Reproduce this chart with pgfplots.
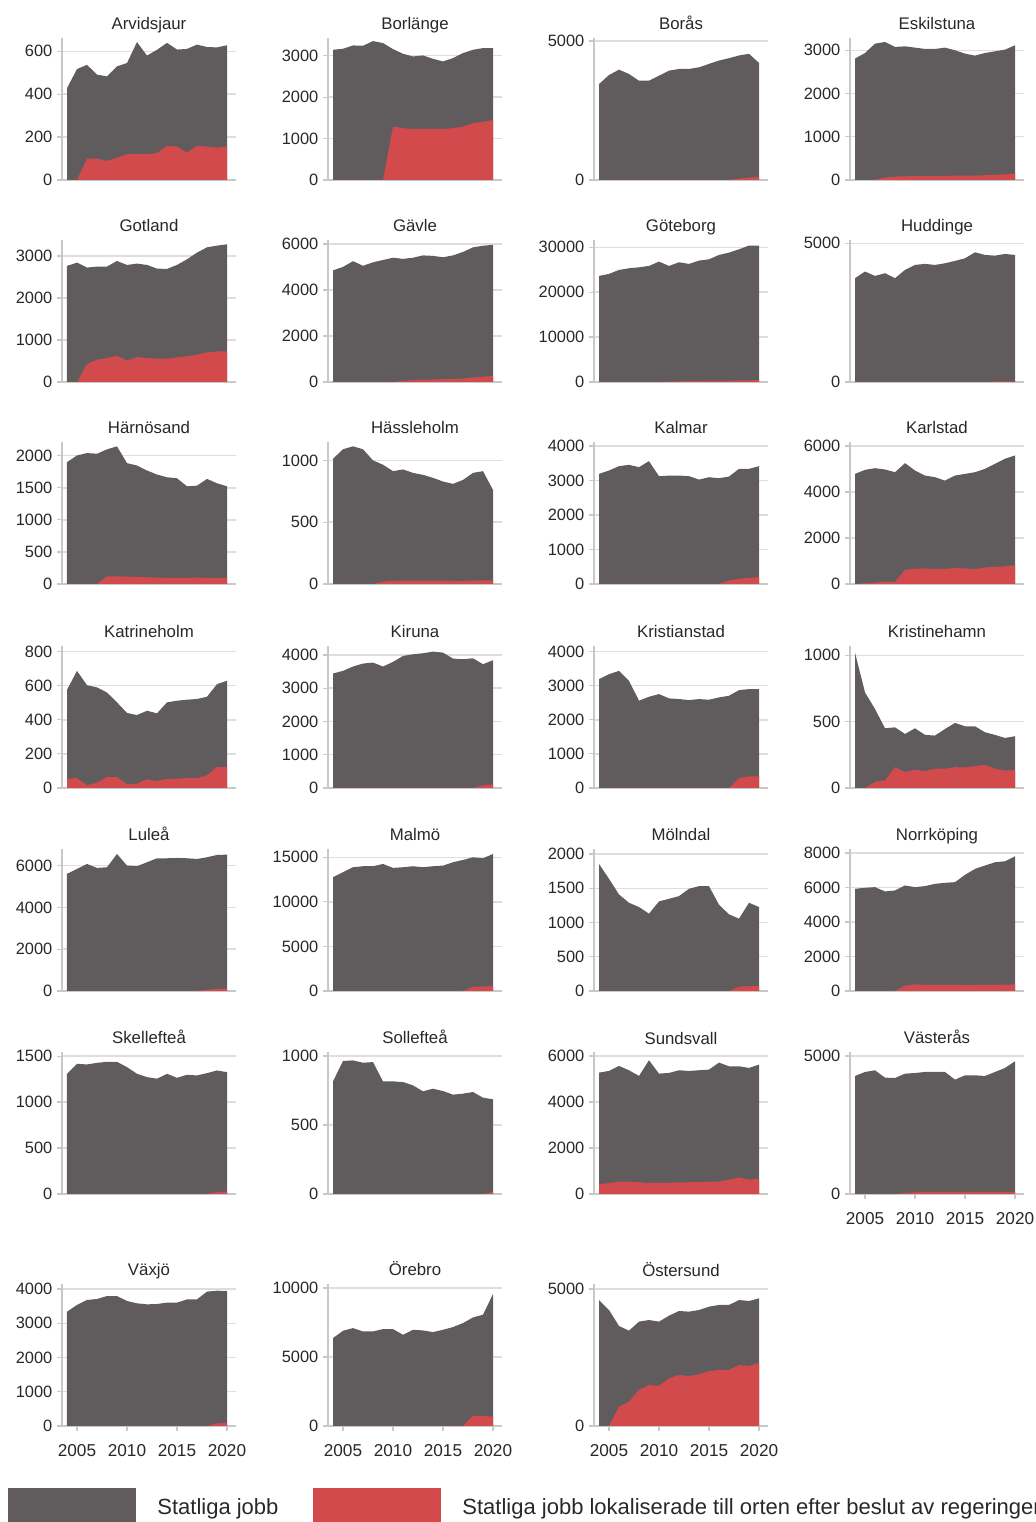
\documentclass[border=0pt]{standalone}
\usepackage{fontspec}
\setmainfont{Liberation Sans}
\usepackage{pgfplots}
\pgfplotsset{compat=1.18}

\definecolor{jobgray}{RGB}{96,92,93}
\definecolor{jobred}{RGB}{210,74,76}
\definecolor{gridgray}{RGB}{222,222,222}
\definecolor{axisgray}{RGB}{200,200,200}
\definecolor{labelc}{RGB}{40,40,40}

% 1 px of the reference = 0.5pt
\pgfplotsset{
  panel/.style={
    scale only axis, width=87pt, height=71pt, anchor=south west,
    xmin=2003.5, xmax=2020.9, ymin=0,
    axis x line*=bottom, axis y line*=left,
    axis line style={draw=axisgray, line width=0.6pt},
    ymajorgrids, grid style={draw=gridgray, line width=0.7pt},
    tick align=outside, major tick length=2.5pt,
    tick style={draw=axisgray, line width=0.6pt},
    xtick=\empty,
    ticklabel style={font=\fontsize{8.2}{9.8}\selectfont, text=labelc},
    yticklabel style={xshift=1.2pt},
    /pgf/number format/assume math mode=true,
    /pgf/number format/1000 sep={},
    scaled y ticks=false,
    title style={font=\fontsize{8.4}{10}\selectfont, text=labelc, at={(0.5,1)}, anchor=base, yshift=-2pt},
  },
  years/.style={xtick={2005,2010,2015,2020},
    xticklabel style={yshift=-3pt, font=\fontsize{8.6}{10}\selectfont}},
  tot/.style={fill=jobgray, draw=none},
  loc/.style={fill=jobred, draw=none},
}

\begin{document}
\begin{tikzpicture}
\useasboundingbox (0,0) rectangle (517.5pt,761pt);

%% row 1
\begin{axis}[panel, at={(31pt,671pt)}, title={Arvidsjaur}, ymax=662, ytick={0,200,400,600}]
\addplot[tot] coordinates {(2004,428)(2005,517)(2006,537)(2007,491)(2008,483)(2009,530)(2010,545)(2011,643)(2012,580)(2013,607)(2014,639)(2015,608)(2016,611)(2017,631)(2018,620)(2019,618)(2020,628)} \closedcycle;
\addplot[loc] coordinates {(2004,0)(2005,0)(2006,100)(2007,100)(2008,89)(2009,104)(2010,120)(2011,120)(2012,120)(2013,125)(2014,159)(2015,156)(2016,128)(2017,159)(2018,156)(2019,151)(2020,156)} \closedcycle;
\end{axis}

\begin{axis}[panel, at={(164pt,671pt)}, title={Borlänge}, ymax=3430, ytick={0,1000,2000,3000}]
\addplot[tot] coordinates {(2004,3145)(2005,3170)(2006,3250)(2007,3242)(2008,3355)(2009,3307)(2010,3161)(2011,3049)(2012,2984)(2013,3008)(2014,2927)(2015,2863)(2016,2944)(2017,3065)(2018,3145)(2019,3186)(2020,3186)} \closedcycle;
\addplot[loc] coordinates {(2004,0)(2005,0)(2006,0)(2007,0)(2008,0)(2009,0)(2010,1290)(2011,1250)(2012,1234)(2013,1234)(2014,1234)(2015,1234)(2016,1250)(2017,1290)(2018,1371)(2019,1403)(2020,1452)} \closedcycle;
\end{axis}

\begin{axis}[panel, at={(297pt,671pt)}, title={Borås}, ymax=5110, ytick={0,5000}]
\addplot[tot] coordinates {(2004,3450)(2005,3777)(2006,3971)(2007,3814)(2008,3572)(2009,3572)(2010,3753)(2011,3935)(2012,3995)(2013,3995)(2014,4056)(2015,4177)(2016,4298)(2017,4383)(2018,4480)(2019,4540)(2020,4213)} \closedcycle;
\addplot[loc] coordinates {(2004,0)(2005,0)(2006,0)(2007,0)(2008,0)(2009,0)(2010,0)(2011,0)(2012,0)(2013,0)(2014,0)(2015,0)(2016,0)(2017,0)(2018,50)(2019,90)(2020,110)} \closedcycle;
\end{axis}

\begin{axis}[panel, at={(425pt,671pt)}, title={Eskilstuna}, ymax=3285, ytick={0,1000,2000,3000}]
\addplot[tot] coordinates {(2004,2808)(2005,2938)(2006,3154)(2007,3192)(2008,3077)(2009,3092)(2010,3062)(2011,3031)(2012,3031)(2013,3062)(2014,3000)(2015,2923)(2016,2877)(2017,2938)(2018,2977)(2019,3015)(2020,3115)} \closedcycle;
\addplot[loc] coordinates {(2004,0)(2005,0)(2006,0)(2007,60)(2008,80)(2009,85)(2010,90)(2011,90)(2012,95)(2013,95)(2014,100)(2015,100)(2016,100)(2017,110)(2018,120)(2019,130)(2020,145)} \closedcycle;
\end{axis}

%% row 2
\begin{axis}[panel, at={(31pt,570pt)}, title={Gotland}, ymax=3380, ytick={0,1000,2000,3000}]
\addplot[tot] coordinates {(2004,2763)(2005,2842)(2006,2723)(2007,2747)(2008,2747)(2009,2881)(2010,2786)(2011,2818)(2012,2786)(2013,2699)(2014,2691)(2015,2786)(2016,2921)(2017,3079)(2018,3206)(2019,3246)(2020,3277)} \closedcycle;
\addplot[loc] coordinates {(2004,0)(2005,0)(2006,427)(2007,530)(2008,570)(2009,625)(2010,507)(2011,594)(2012,570)(2013,554)(2014,554)(2015,586)(2016,610)(2017,649)(2018,705)(2019,728)(2020,728)} \closedcycle;
\end{axis}

\begin{axis}[panel, at={(164pt,570pt)}, title={Gävle}, ymax=6170, ytick={0,2000,4000,6000}]
\addplot[tot] coordinates {(2004,4850)(2005,5000)(2006,5250)(2007,5050)(2008,5200)(2009,5300)(2010,5400)(2011,5350)(2012,5400)(2013,5500)(2014,5480)(2015,5420)(2016,5500)(2017,5650)(2018,5850)(2019,5920)(2020,5960)} \closedcycle;
\addplot[loc] coordinates {(2004,0)(2005,0)(2006,0)(2007,0)(2008,0)(2009,0)(2010,0)(2011,50)(2012,80)(2013,100)(2014,110)(2015,120)(2016,120)(2017,150)(2018,200)(2019,230)(2020,260)} \closedcycle;
\end{axis}

\begin{axis}[panel, at={(297pt,570pt)}, title={Göteborg}, ymax=31630, ytick={0,10000,20000,30000}]
\addplot[tot] coordinates {(2004,23630)(2005,24070)(2006,24960)(2007,25330)(2008,25550)(2009,25850)(2010,26810)(2011,25850)(2012,26670)(2013,26300)(2014,27040)(2015,27330)(2016,28300)(2017,28810)(2018,29550)(2019,30400)(2020,30400)} \closedcycle;
\addplot[loc] coordinates {(2004,0)(2005,0)(2006,0)(2007,0)(2008,0)(2009,0)(2010,0)(2011,100)(2012,150)(2013,200)(2014,200)(2015,250)(2016,250)(2017,300)(2018,350)(2019,380)(2020,400)} \closedcycle;
\end{axis}

\begin{axis}[panel, at={(425pt,570pt)}, title={Huddinge}, ymax=5120, ytick={0,5000}]
\addplot[tot] coordinates {(2004,3741)(2005,3981)(2006,3825)(2007,3921)(2008,3741)(2009,4041)(2010,4221)(2011,4257)(2012,4221)(2013,4281)(2014,4365)(2015,4460)(2016,4676)(2017,4580)(2018,4556)(2019,4616)(2020,4580)} \closedcycle;
\addplot[loc] coordinates {(2004,0)(2005,0)(2006,0)(2007,0)(2008,0)(2009,0)(2010,0)(2011,0)(2012,0)(2013,0)(2014,0)(2015,0)(2016,0)(2017,0)(2018,20)(2019,25)(2020,25)} \closedcycle;
\end{axis}

%% row 3
\begin{axis}[panel, at={(31pt,469pt)}, title={Härnösand}, ymax=2215, ytick={0,500,1000,1500,2000}]
\addplot[tot] coordinates {(2004,1901)(2005,2005)(2006,2042)(2007,2032)(2008,2100)(2009,2147)(2010,1885)(2011,1848)(2012,1770)(2013,1707)(2014,1665)(2015,1649)(2016,1524)(2017,1534)(2018,1639)(2019,1571)(2020,1524)} \closedcycle;
\addplot[loc] coordinates {(2004,0)(2005,0)(2006,0)(2007,0)(2008,120)(2009,120)(2010,115)(2011,110)(2012,105)(2013,100)(2014,95)(2015,95)(2016,95)(2017,100)(2018,95)(2019,95)(2020,95)} \closedcycle;
\end{axis}

\begin{axis}[panel, at={(164pt,469pt)}, title={Hässleholm}, ymax=1149, ytick={0,500,1000}]
\addplot[tot] coordinates {(2004,1013)(2005,1090)(2006,1114)(2007,1090)(2008,1000)(2009,965)(2010,913)(2011,927)(2012,899)(2013,883)(2014,859)(2015,829)(2016,810)(2017,842)(2018,899)(2019,913)(2020,761)} \closedcycle;
\addplot[loc] coordinates {(2004,0)(2005,0)(2006,0)(2007,0)(2008,0)(2009,19)(2010,25)(2011,27)(2012,28)(2013,28)(2014,28)(2015,28)(2016,24)(2017,24)(2018,28)(2019,30)(2020,30)} \closedcycle;
\end{axis}

\begin{axis}[panel, at={(297pt,469pt)}, title={Kalmar}, ymax=4117, ytick={0,1000,2000,3000,4000}]
\addplot[tot] coordinates {(2004,3192)(2005,3289)(2006,3416)(2007,3455)(2008,3387)(2009,3562)(2010,3124)(2011,3143)(2012,3143)(2013,3124)(2014,3027)(2015,3095)(2016,3066)(2017,3114)(2018,3338)(2019,3338)(2020,3416)} \closedcycle;
\addplot[loc] coordinates {(2004,0)(2005,0)(2006,0)(2007,0)(2008,0)(2009,0)(2010,0)(2011,0)(2012,0)(2013,0)(2014,0)(2015,0)(2016,0)(2017,100)(2018,150)(2019,180)(2020,200)} \closedcycle;
\end{axis}

\begin{axis}[panel, at={(425pt,469pt)}, title={Karlstad}, ymax=6176, ytick={0,2000,4000,6000}]
\addplot[tot] coordinates {(2004,4789)(2005,4964)(2006,5037)(2007,4979)(2008,4862)(2009,5256)(2010,4935)(2011,4716)(2012,4643)(2013,4497)(2014,4716)(2015,4789)(2016,4862)(2017,5008)(2018,5227)(2019,5446)(2020,5592)} \closedcycle;
\addplot[loc] coordinates {(2004,0)(2005,30)(2006,60)(2007,100)(2008,90)(2009,620)(2010,660)(2011,680)(2012,650)(2013,660)(2014,690)(2015,680)(2016,640)(2017,720)(2018,740)(2019,770)(2020,820)} \closedcycle;
\end{axis}

%% row 4
\begin{axis}[panel, at={(31pt,367pt)}, title={Katrineholm}, ymax=833, ytick={0,200,400,600,800}]
\addplot[tot] coordinates {(2004,576)(2005,687)(2006,603)(2007,590)(2008,560)(2009,502)(2010,440)(2011,428)(2012,453)(2013,438)(2014,502)(2015,512)(2016,518)(2017,522)(2018,535)(2019,609)(2020,629)} \closedcycle;
\addplot[loc] coordinates {(2004,54)(2005,58)(2006,16)(2007,31)(2008,64)(2009,64)(2010,23)(2011,25)(2012,51)(2013,41)(2014,54)(2015,54)(2016,58)(2017,58)(2018,74)(2019,123)(2020,123)} \closedcycle;
\end{axis}

\begin{axis}[panel, at={(164pt,367pt)}, title={Kiruna}, ymax=4269, ytick={0,1000,2000,3000,4000}]
\addplot[tot] coordinates {(2004,3441)(2005,3521)(2006,3651)(2007,3741)(2008,3771)(2009,3651)(2010,3791)(2011,3970)(2012,4020)(2013,4050)(2014,4100)(2015,4070)(2016,3890)(2017,3870)(2018,3900)(2019,3721)(2020,3840)} \closedcycle;
\addplot[loc] coordinates {(2004,0)(2005,0)(2006,0)(2007,0)(2008,0)(2009,0)(2010,0)(2011,0)(2012,0)(2013,0)(2014,0)(2015,0)(2016,0)(2017,0)(2018,0)(2019,80)(2020,110)} \closedcycle;
\end{axis}

\begin{axis}[panel, at={(297pt,367pt)}, title={Kristianstad}, ymax=4165, ytick={0,1000,2000,3000,4000}]
\addplot[tot] coordinates {(2004,3192)(2005,3338)(2006,3435)(2007,3143)(2008,2560)(2009,2676)(2010,2754)(2011,2628)(2012,2608)(2013,2579)(2014,2608)(2015,2589)(2016,2657)(2017,2705)(2018,2871)(2019,2900)(2020,2900)} \closedcycle;
\addplot[loc] coordinates {(2004,0)(2005,0)(2006,0)(2007,0)(2008,0)(2009,0)(2010,0)(2011,0)(2012,0)(2013,0)(2014,0)(2015,0)(2016,0)(2017,0)(2018,292)(2019,340)(2020,340)} \closedcycle;
\end{axis}

\begin{axis}[panel, at={(425pt,367pt)}, title={Kristinehamn}, ymax=1070, ytick={0,500,1000}]
\addplot[tot] coordinates {(2004,1020)(2005,720)(2006,595)(2007,450)(2008,457)(2009,407)(2010,450)(2011,400)(2012,395)(2013,445)(2014,490)(2015,465)(2016,465)(2017,420)(2018,400)(2019,377)(2020,390)} \closedcycle;
\addplot[loc] coordinates {(2004,0)(2005,0)(2006,45)(2007,57)(2008,157)(2009,120)(2010,137)(2011,127)(2012,145)(2013,145)(2014,157)(2015,155)(2016,165)(2017,175)(2018,145)(2019,132)(2020,132)} \closedcycle;
\end{axis}

%% row 5
\begin{axis}[panel, at={(31pt,265.5pt)}, title={Luleå}, ymax=6793, ytick={0,2000,4000,6000}]
\addplot[tot] coordinates {(2004,5603)(2005,5840)(2006,6078)(2007,5888)(2008,5920)(2009,6555)(2010,6000)(2011,5968)(2012,6158)(2013,6349)(2014,6349)(2015,6365)(2016,6349)(2017,6317)(2018,6397)(2019,6507)(2020,6523)} \closedcycle;
\addplot[loc] coordinates {(2004,0)(2005,0)(2006,0)(2007,0)(2008,0)(2009,0)(2010,0)(2011,0)(2012,0)(2013,0)(2014,0)(2015,0)(2016,0)(2017,0)(2018,60)(2019,100)(2020,120)} \closedcycle;
\end{axis}

\begin{axis}[panel, at={(164pt,265.5pt)}, title={Malmö}, ymax=15930, ytick={0,5000,10000,15000}]
\addplot[tot] coordinates {(2004,12767)(2005,13325)(2006,13883)(2007,13995)(2008,13995)(2009,14255)(2010,13809)(2011,13883)(2012,13995)(2013,13883)(2014,13995)(2015,14069)(2016,14441)(2017,14702)(2018,15000)(2019,14888)(2020,15372)} \closedcycle;
\addplot[loc] coordinates {(2004,0)(2005,0)(2006,0)(2007,0)(2008,0)(2009,0)(2010,0)(2011,0)(2012,0)(2013,0)(2014,0)(2015,0)(2016,0)(2017,0)(2018,484)(2019,500)(2020,558)} \closedcycle;
\end{axis}

\begin{axis}[panel, at={(297pt,265.5pt)}, title={Mölndal}, ymax=2073, ytick={0,500,1000,1500,2000}]
\addplot[tot] coordinates {(2004,1855)(2005,1637)(2006,1409)(2007,1288)(2008,1225)(2009,1128)(2010,1308)(2011,1346)(2012,1385)(2013,1492)(2014,1530)(2015,1530)(2016,1259)(2017,1119)(2018,1056)(2019,1288)(2020,1225)} \closedcycle;
\addplot[loc] coordinates {(2004,0)(2005,0)(2006,0)(2007,0)(2008,0)(2009,0)(2010,0)(2011,0)(2012,0)(2013,0)(2014,0)(2015,0)(2016,0)(2017,0)(2018,63)(2019,70)(2020,70)} \closedcycle;
\end{axis}

\begin{axis}[panel, at={(425pt,265.5pt)}, title={Norrköping}, ymax=8230, ytick={0,2000,4000,6000,8000}]
\addplot[tot] coordinates {(2004,5923)(2005,5981)(2006,6019)(2007,5769)(2008,5827)(2009,6115)(2010,6019)(2011,6077)(2012,6211)(2013,6269)(2014,6307)(2015,6730)(2016,7076)(2017,7269)(2018,7461)(2019,7519)(2020,7807)} \closedcycle;
\addplot[loc] coordinates {(2004,0)(2005,0)(2006,0)(2007,0)(2008,0)(2009,308)(2010,385)(2011,360)(2012,350)(2013,350)(2014,350)(2015,340)(2016,340)(2017,350)(2018,360)(2019,370)(2020,380)} \closedcycle;
\end{axis}

%% row 6
\begin{axis}[panel, at={(31pt,164pt)}, title={Skellefteå}, ymax=1545, ytick={0,500,1000,1500}]
\addplot[tot] coordinates {(2004,1308)(2005,1417)(2006,1409)(2007,1427)(2008,1438)(2009,1438)(2010,1380)(2011,1308)(2012,1272)(2013,1254)(2014,1308)(2015,1264)(2016,1297)(2017,1290)(2018,1315)(2019,1344)(2020,1326)} \closedcycle;
\addplot[loc] coordinates {(2004,0)(2005,0)(2006,0)(2007,0)(2008,0)(2009,0)(2010,0)(2011,0)(2012,0)(2013,0)(2014,0)(2015,0)(2016,0)(2017,0)(2018,0)(2019,20)(2020,25)} \closedcycle;
\end{axis}

\begin{axis}[panel, at={(164pt,164pt)}, title={Sollefteå}, ymax=1029, ytick={0,500,1000}]
\addplot[tot] coordinates {(2004,816)(2005,964)(2006,968)(2007,951)(2008,956)(2009,816)(2010,816)(2011,811)(2012,787)(2013,744)(2014,763)(2015,746)(2016,720)(2017,727)(2018,739)(2019,698)(2020,686)} \closedcycle;
\addplot[loc] coordinates {(2004,0)(2005,0)(2006,0)(2007,0)(2008,0)(2009,0)(2010,0)(2011,0)(2012,0)(2013,0)(2014,0)(2015,0)(2016,0)(2017,0)(2018,0)(2019,0)(2020,15)} \closedcycle;
\end{axis}

\begin{axis}[panel, at={(297pt,164pt)}, title={Sundsvall}, ymax=6170, ytick={0,2000,4000,6000}]
\addplot[tot] coordinates {(2004,5274)(2005,5347)(2006,5564)(2007,5376)(2008,5130)(2009,5811)(2010,5231)(2011,5260)(2012,5376)(2013,5347)(2014,5376)(2015,5405)(2016,5709)(2017,5550)(2018,5550)(2019,5477)(2020,5622)} \closedcycle;
\addplot[loc] coordinates {(2004,435)(2005,470)(2006,536)(2007,540)(2008,510)(2009,478)(2010,480)(2011,490)(2012,510)(2013,510)(2014,520)(2015,530)(2016,540)(2017,623)(2018,710)(2019,620)(2020,660)} \closedcycle;
\end{axis}

\begin{axis}[panel, years, at={(425pt,164pt)}, title={Västerås}, ymax=5145, ytick={0,5000}]
\addplot[tot] coordinates {(2004,4276)(2005,4421)(2006,4481)(2007,4215)(2008,4203)(2009,4360)(2010,4384)(2011,4421)(2012,4421)(2013,4421)(2014,4143)(2015,4300)(2016,4300)(2017,4276)(2018,4421)(2019,4566)(2020,4808)} \closedcycle;
\addplot[loc] coordinates {(2004,0)(2005,0)(2006,0)(2007,0)(2008,0)(2009,40)(2010,60)(2011,70)(2012,70)(2013,70)(2014,70)(2015,70)(2016,70)(2017,75)(2018,75)(2019,80)(2020,80)} \closedcycle;
\end{axis}

%% row 7
\begin{axis}[panel, years, at={(31pt,48pt)}, title={Växjö}, ymax=4146, ytick={0,1000,2000,3000,4000}]
\addplot[tot] coordinates {(2004,3338)(2005,3533)(2006,3679)(2007,3708)(2008,3795)(2009,3795)(2010,3650)(2011,3581)(2012,3552)(2013,3562)(2014,3601)(2015,3601)(2016,3698)(2017,3698)(2018,3922)(2019,3951)(2020,3941)} \closedcycle;
\addplot[loc] coordinates {(2004,0)(2005,0)(2006,0)(2007,0)(2008,0)(2009,0)(2010,0)(2011,0)(2012,0)(2013,0)(2014,0)(2015,0)(2016,0)(2017,0)(2018,0)(2019,78)(2020,90)} \closedcycle;
\end{axis}

\begin{axis}[panel, years, at={(164pt,48pt)}, title={Örebro}, ymax=10290, ytick={0,5000,10000}]
\addplot[tot] coordinates {(2004,6368)(2005,6900)(2006,7094)(2007,6852)(2008,6852)(2009,7022)(2010,7022)(2011,6610)(2012,6973)(2013,6925)(2014,6804)(2015,6973)(2016,7167)(2017,7457)(2018,7869)(2019,8062)(2020,9563)} \closedcycle;
\addplot[loc] coordinates {(2004,0)(2005,0)(2006,0)(2007,0)(2008,0)(2009,0)(2010,0)(2011,0)(2012,0)(2013,0)(2014,0)(2015,0)(2016,0)(2017,0)(2018,726)(2019,726)(2020,678)} \closedcycle;
\end{axis}

\begin{axis}[panel, years, at={(297pt,48pt)}, title={Östersund}, ymax=5182, ytick={0,5000}]
\addplot[tot] coordinates {(2004,4598)(2005,4233)(2006,3650)(2007,3479)(2008,3808)(2009,3868)(2010,3808)(2011,4027)(2012,4197)(2013,4173)(2014,4233)(2015,4355)(2016,4416)(2017,4416)(2018,4598)(2019,4562)(2020,4659)} \closedcycle;
\addplot[loc] coordinates {(2004,0)(2005,0)(2006,706)(2007,888)(2008,1314)(2009,1496)(2010,1460)(2011,1740)(2012,1861)(2013,1825)(2014,1886)(2015,2007)(2016,2044)(2017,2044)(2018,2226)(2019,2190)(2020,2311)} \closedcycle;
\end{axis}

%% legend
\begin{axis}[hide axis, scale only axis, width=517.5pt, height=10pt,
  at={(0pt,0pt)}, anchor=south west, xmin=0, xmax=1, ymin=0, ymax=1,
  legend columns=2,
  legend image code/.code={\fill[#1] (0pt,-10pt) rectangle (64pt,10pt);},
  legend style={draw=none, fill=none, inner sep=0pt, at={(0.0077,1.7)}, anchor=north west,
    font=\fontsize{11}{13}\selectfont, text=labelc,
    /tikz/every odd column/.append style={column sep=8.5pt},
    /tikz/every even column/.append style={column sep=15.5pt}},
]
\addlegendimage{fill=jobgray, draw=none}
\addlegendentry{Statliga jobb}
\addlegendimage{fill=jobred, draw=none}
\addlegendentry{Statliga jobb lokaliserade till orten efter beslut av regeringen}
\end{axis}
\end{tikzpicture}
\end{document}
